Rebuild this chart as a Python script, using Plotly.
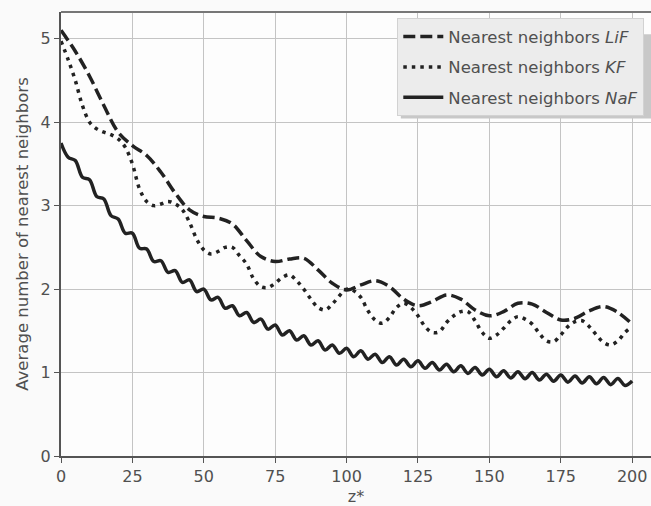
import plotly.graph_objects as go

# ---- data ----
lif_x = [0, 5, 10, 15, 20, 25, 30, 35, 40, 45, 50, 55, 60, 65, 70, 75, 80, 85, 90, 95,
         100, 105, 110, 115, 120, 125, 130, 135, 140, 145, 150, 155, 160, 165, 170, 175,
         180, 185, 190, 195, 200]
lif_y = [5.10, 4.85, 4.55, 4.20, 3.88, 3.72, 3.60, 3.40, 3.15, 2.95, 2.87, 2.85, 2.78,
         2.58, 2.39, 2.33, 2.36, 2.37, 2.23, 2.07, 1.99, 2.05, 2.10, 2.03, 1.88, 1.80,
         1.85, 1.93, 1.88, 1.75, 1.68, 1.73, 1.83, 1.82, 1.72, 1.63, 1.65, 1.74, 1.79,
         1.72, 1.58]

kf_x = [0, 2.5, 5, 7.5, 10, 12.5, 15, 17.5, 20, 22.5, 25, 27.5, 30, 32.5, 35, 37.5, 40,
        42.5, 45, 47.5, 50, 52.5, 55, 57.5, 60, 62.5, 65, 67.5, 70, 72.5, 75, 77.5, 80,
        82.5, 85, 87.5, 90, 92.5, 95, 97.5, 100, 102.5, 105, 107.5, 110, 112.5, 115,
        117.5, 120, 122.5, 125, 127.5, 130, 132.5, 135, 137.5, 140, 142.5, 145, 147.5,
        150, 152.5, 155, 157.5, 160, 162.5, 165, 167.5, 170, 172.5, 175, 177.5, 180,
        182.5, 185, 187.5, 190, 192.5, 195, 197.5, 200]
kf_y = [4.97, 4.75, 4.50, 4.20, 4.00, 3.92, 3.88, 3.85, 3.80, 3.70, 3.50, 3.20, 3.05,
        3.00, 3.02, 3.05, 3.02, 2.95, 2.80, 2.60, 2.47, 2.42, 2.45, 2.50, 2.50, 2.40,
        2.30, 2.12, 2.03, 2.02, 2.07, 2.14, 2.17, 2.10, 2.00, 1.88, 1.78, 1.75, 1.82,
        1.92, 2.00, 1.98, 1.90, 1.74, 1.63, 1.59, 1.66, 1.78, 1.83, 1.78, 1.68, 1.55,
        1.48, 1.49, 1.60, 1.68, 1.73, 1.73, 1.62, 1.48, 1.41, 1.45, 1.53, 1.62, 1.67,
        1.64, 1.58, 1.47, 1.38, 1.37, 1.45, 1.55, 1.61, 1.62, 1.55, 1.45, 1.36, 1.33,
        1.38, 1.48, 1.55]

naf_x = kf_x
naf_y = [3.75, 3.58, 3.54, 3.34, 3.31, 3.11, 3.08, 2.88, 2.84, 2.67, 2.67, 2.49, 2.48,
         2.33, 2.34, 2.20, 2.22, 2.08, 2.11, 1.97, 2.00, 1.87, 1.90, 1.77, 1.80, 1.68,
         1.72, 1.60, 1.64, 1.52, 1.57, 1.45, 1.50, 1.39, 1.44, 1.33, 1.38, 1.27, 1.33,
         1.23, 1.29, 1.19, 1.26, 1.16, 1.22, 1.12, 1.19, 1.09, 1.16, 1.07, 1.14, 1.05,
         1.12, 1.03, 1.10, 1.01, 1.08, 0.99, 1.06, 0.97, 1.04, 0.95, 1.02, 0.935, 1.01,
         0.925, 1.00, 0.91, 0.98, 0.895, 0.97, 0.885, 0.96, 0.875, 0.95, 0.865, 0.94,
         0.855, 0.93, 0.845, 0.90]

x_ticks = [0, 25, 50, 75, 100, 125, 150, 175, 200]
y_ticks = [0, 1, 2, 3, 4, 5]

LINE = "#222222"
TXT = "#505050"
FONT = "DejaVu Sans"

fig = go.Figure()
fig.add_trace(go.Scatter(x=lif_x, y=lif_y, mode="lines", name="Nearest neighbors <i>LiF</i>",
                         legendgroup="a",
                         line=dict(color=LINE, width=3.5, dash="12px,5px", shape="spline")))
fig.add_trace(go.Scatter(x=kf_x, y=kf_y, mode="lines", name="Nearest neighbors <i>KF</i>",
                         legendgroup="b",
                         line=dict(color=LINE, width=3.5, dash="3.5px,5px", shape="spline")))
fig.add_trace(go.Scatter(x=naf_x, y=naf_y, mode="lines", name="Nearest neighbors <i>NaF</i>",
                         legendgroup="c",
                         line=dict(color=LINE, width=3.5, shape="spline", smoothing=1.0)))

# soft shadow under the legend box
fig.add_shape(type="rect", xref="paper", yref="paper", x0=0.576, x1=1.0, y0=0.760, y1=0.95,
              fillcolor="#c8c8c8", line=dict(width=0), layer="above")

fig.update_layout(
    width=651, height=506,
    margin=dict(l=61, r=0, t=12, b=50, autoexpand=False),
    paper_bgcolor="#fafafa",
    plot_bgcolor="#fdfdfd",
    font=dict(family=FONT, size=16, color=TXT),
    showlegend=True,
    legend=dict(x=0.57, y=0.986, xanchor="left", yanchor="top",
                bgcolor="#ececec", bordercolor="#d2d2d2", borderwidth=1,
                font=dict(family=FONT, size=16.5, color=TXT),
                tracegroupgap=6, itemwidth=40),
    xaxis=dict(range=[0, 206.6], tickvals=x_ticks, ticktext=[str(v) for v in x_ticks],
               showgrid=True, gridcolor="#c4c4c4", gridwidth=1,
               zeroline=False, showline=True, linecolor="#555555", linewidth=2,
               mirror=False, ticks="outside", ticklen=5, tickcolor="#555555",
               tickfont=dict(size=16, color=TXT), automargin=False,
               title=dict(text="z*", font=dict(size=16, color=TXT), standoff=6)),
    yaxis=dict(range=[0, 5.32], tickvals=y_ticks, ticktext=[str(v) for v in y_ticks],
               showgrid=True, gridcolor="#c4c4c4", gridwidth=1,
               zeroline=False, showline=True, linecolor="#555555", linewidth=2,
               ticks="outside", ticklen=5, tickcolor="#555555",
               tickfont=dict(size=16, color=TXT), automargin=False,
               title=dict(text="Average number of nearest neighbors",
                          font=dict(size=16.5, color=TXT), standoff=8)),
)
# top spine
fig.add_shape(type="line", xref="paper", yref="paper", x0=0, x1=1, y0=1, y1=1,
              line=dict(color="#777777", width=2))

fig.write_html(
    "out.html",
    config={"displayModeBar": False},
    post_script="document.body.style.margin='0';document.body.style.overflow='hidden';"
                "document.documentElement.style.overflow='hidden';",
)
